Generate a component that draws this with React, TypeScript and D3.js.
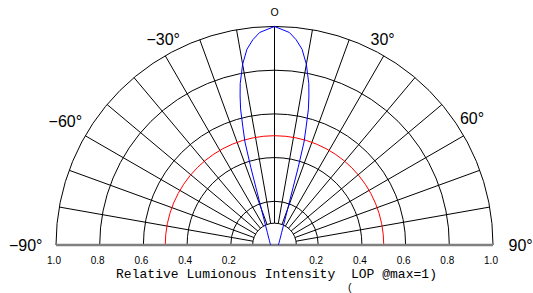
import { useEffect, useRef } from "react";
import * as d3 from "d3";

// blue curve: angle (deg) vs relative intensity
const beamAngles = [
  -90, -80, -70, -60, -50, -40, -30, -25, -20, -19, -18, -17, -16, -15, -14, -13, -12, -10, -8, -6, -4, -2, 0,
  2, 4, 6, 8, 10, 12, 13, 14, 15, 16, 17, 18, 19, 20, 25, 30, 40, 50, 60, 70, 80, 90,
];
const beamValues = [
  0.018, 0.019, 0.021, 0.025, 0.03, 0.041, 0.065, 0.095, 0.177, 0.214, 0.27, 0.37, 0.49, 0.56, 0.642, 0.7, 0.755, 0.84, 0.905, 0.945, 0.975, 0.987, 1.0,
  0.987, 0.975, 0.945, 0.905, 0.84, 0.755, 0.7, 0.642, 0.56, 0.49, 0.37, 0.27, 0.214, 0.177, 0.095, 0.065, 0.041, 0.03, 0.025, 0.021, 0.019, 0.018,
];

const gridRadii = [0.1, 0.2, 0.4, 0.6, 0.8, 1.0];
const refRadius = 0.5;
const spokeAngles = [-80, -70, -60, -50, -40, -30, -20, -10, 0, 10, 20, 30, 40, 50, 60, 70, 80];
const tickValues = [1.0, 0.8, 0.6, 0.4, 0.2];
const angleLabels = ["−90°", "−60°", "−30°", "O", "30°", "60°", "90°"];
const xTitle = "Relative Lumionous Intensity  LOP @max=1)";

const App = () => {
  const svgRef = useRef<SVGSVGElement>(null);

  useEffect(() => {
    const width = 533;
    const height = 293;
    const cx = 274.5;
    const cy = 245;

    const svg = d3.select(svgRef.current).attr("width", width).attr("height", height);
    svg.selectAll("*").remove();

    const r = d3.scaleLinear().domain([0, 1]).range([0, 218.5]);
    const rad = (deg: number) => (deg * Math.PI) / 180;

    const g = svg.append("g").attr("transform", `translate(${cx},${cy})`);

    // grid semicircles
    const semi = (v: number) => {
      const p = d3.path();
      p.arc(0, 0, r(v), Math.PI, 2 * Math.PI);
      return p.toString();
    };

    g.selectAll("path.grid")
      .data(gridRadii)
      .enter()
      .append("path")
      .attr("class", "grid")
      .attr("d", semi)
      .attr("fill", "none")
      .attr("stroke", "#000")
      .attr("stroke-width", 1);

    // spokes
    g.selectAll("line.spoke")
      .data(spokeAngles)
      .enter()
      .append("line")
      .attr("x1", (d) => r(0.1) * Math.sin(rad(d)))
      .attr("y1", (d) => -r(0.1) * Math.cos(rad(d)))
      .attr("x2", (d) => r(1) * Math.sin(rad(d)))
      .attr("y2", (d) => -r(1) * Math.cos(rad(d)))
      .attr("stroke", "#000")
      .attr("stroke-width", 1);

    // red reference circle
    g.append("path")
      .attr("d", semi(refRadius))
      .attr("fill", "none")
      .attr("stroke", "#ff0000")
      .attr("stroke-width", 1);

    // baseline
    g.append("line")
      .attr("x1", -r(1))
      .attr("x2", r(1))
      .attr("y1", 0)
      .attr("y2", 0)
      .attr("stroke", "#808080")
      .attr("stroke-width", 2.5);

    // beam curve
    const pts = beamAngles.map((a, i) => [a, beamValues[i]] as [number, number]);
    const line = d3
      .lineRadial<[number, number]>()
      .angle((d) => rad(d[0]))
      .radius((d) => r(d[1]))
      .curve(d3.curveLinear);

    g.append("path")
      .attr("d", line(pts))
      .attr("fill", "none")
      .attr("stroke", "#0000ff")
      .attr("stroke-width", 1);

    // radial tick labels
    const tickFont = "'Liberation Sans', Arial, sans-serif";
    [-1, 1].forEach((side) => {
      g.selectAll(null)
        .data(tickValues)
        .enter()
        .append("text")
        .attr("x", (d) => side * r(d) - 2)
        .attr("y", 19)
        .attr("text-anchor", "middle")
        .style("font-family", tickFont)
        .style("font-size", "10px")
        .style("fill", "#000")
        .text((d) => d.toFixed(1));
    });

    // angle labels (angle deg, radius px, anchor)
    const labelPos: [number, number, string][] = [
      [-90, 232, "end"],
      [-59.4, 243, "middle"],
      [-28.4, 234, "middle"],
      [0, 232.5, "middle"],
      [27.7, 232.6, "middle"],
      [57.4, 234.5, "middle"],
      [90, 234, "start"],
    ];
    g.selectAll("text.ang")
      .data(angleLabels)
      .enter()
      .append("text")
      .attr("class", "ang")
      .attr("x", (d, i) => labelPos[i][1] * Math.sin(rad(labelPos[i][0])))
      .attr("y", (d, i) => -labelPos[i][1] * Math.cos(rad(labelPos[i][0])))
      .attr("dy", "0.36em")
      .attr("text-anchor", (d, i) => labelPos[i][2])
      .style("font-family", tickFont)
      .style("font-size", (d) => (d === "O" ? "10.5px" : "16px"))
      .style("fill", "#000")
      .text((d) => d);

    // title
    svg
      .append("text")
      .attr("x", 116)
      .attr("y", 278)
      .attr("textLength", 321)
      .attr("xml:space", "preserve")
      .style("white-space", "pre")
      .style("font-family", "'Liberation Mono', 'DejaVu Sans Mono', monospace")
      .style("font-size", "13px")
      .style("fill", "#000")
      .text(xTitle);

    svg
      .append("text")
      .attr("x", 347)
      .attr("y", 291)
      .style("font-family", "'Liberation Mono', monospace")
      .style("font-size", "10px")
      .style("fill", "#000")
      .text("(");
  }, []);

  return (
    <div style={{ position: "absolute", left: 0, top: 0, background: "#fff" }}>
      <svg ref={svgRef}></svg>
    </div>
  );
};

export default App;
